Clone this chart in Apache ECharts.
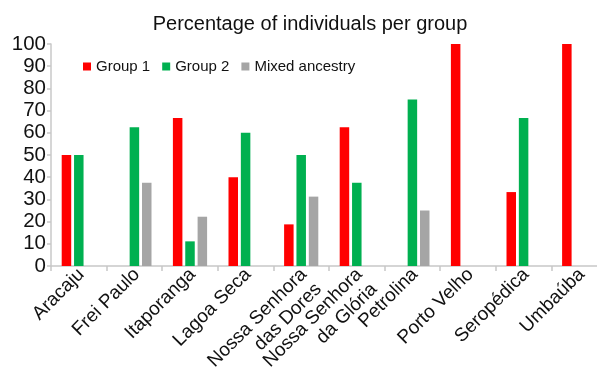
<!DOCTYPE html>
<html><head><meta charset="utf-8">
<script src="https://cdn.jsdelivr.net/npm/echarts@6/dist/echarts.min.js"></script>
<style>html,body{margin:0;padding:0;background:#fff}#c{width:597px;height:373px}</style>
</head><body><div id="c"></div>
<script>
const categories = ['Aracaju','Frei Paulo','Itaporanga','Lagoa Seca','Nossa Senhora\ndas Dores','Nossa Senhora\nda Glória','Petrolina','Porto Velho','Seropédica','Umbaúba'];
const group1 = [50, null, 66.7, 40, 18.75, 62.5, null, 100, 33.3, 100];
const group2 = [50, 62.5, 11.1, 60, 50, 37.5, 75, null, 66.7, null];
const mixed = [null, 37.5, 22.2, null, 31.25, null, 25, null, null, null];
const yTicks = [0,10,20,30,40,50,60,70,80,90,100];

const chart = echarts.init(document.getElementById('c'));
const font = 'Liberation Sans, Arial, sans-serif';
chart.setOption({
  animation:false,
  title:{text:'Percentage of individuals per group', left:305, textAlign:'center', top:9,
    textStyle:{fontFamily:font, fontSize:20, fontWeight:'normal', color:'#111'}},
  legend:{left:78, top:54, itemWidth:8, itemHeight:8, itemGap:12, icon:'rect',
    textStyle:{fontFamily:font, fontSize:15, color:'#111'}},
  grid:{left:51, top:44, bottom:107, right:-10, containLabel:false, outerBoundsMode:'none'},
  xAxis:{type:'category', data:categories,
    axisLine:{lineStyle:{color:'#c8c8c8', width:1.5}},
    axisTick:{show:true, length:5, lineStyle:{color:'#c8c8c8', width:1.5}},
    axisLabel:{rotate:45, interval:0, fontFamily:font, fontSize:19, color:'#111', lineHeight:21, margin:3,
      align:'right', verticalAlign:'top', padding:[-7,0,0,0], hideOverlap:false}},
  yAxis:{type:'value', min:0, max:100, interval:10,
    axisLine:{show:true, lineStyle:{color:'#c8c8c8', width:1.5}},
    axisTick:{show:true, length:4, lineStyle:{color:'#c8c8c8', width:1.5}},
    splitLine:{show:false},
    axisLabel:{fontFamily:font, fontSize:20.5, color:'#111', margin:5, showMinLabel:true, showMaxLabel:true, hideOverlap:false,
      formatter:v=>yTicks.includes(v)?String(v):''}},
  series:[
    {name:'Group 1', type:'bar', data:group1, barWidth:9.5, barGap:'30%', itemStyle:{color:'#ff0000'}},
    {name:'Group 2', type:'bar', data:group2, barWidth:9.5, barGap:'30%', itemStyle:{color:'#00b050'}},
    {name:'Mixed ancestry', type:'bar', data:mixed, barWidth:9.5, barGap:'30%', itemStyle:{color:'#a5a5a5'}}
  ]
});
</script></body></html>
